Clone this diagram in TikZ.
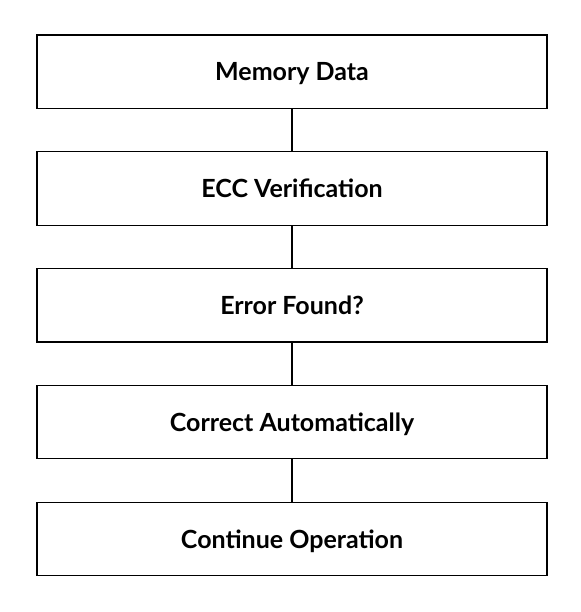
\documentclass[tikz,border=0pt]{standalone}
\usepackage{fontspec}
\setmainfont{Lato}
\begin{document}
\begin{tikzpicture}[x=1pt,y=-1pt,
  stepbox/.style={draw=black,line width=1.4pt,minimum width=510pt,minimum height=73.5pt,inner sep=0pt,text depth=0pt,font=\bfseries\fontsize{25}{28}\selectfont},
  link/.style={draw=black,line width=1.4pt}]
\useasboundingbox (0,0) rectangle (580,612);
\fill[white] (0,0) rectangle (580,612);
\node[stepbox] (a) at (292,71.8) {Memory Data};
\node[stepbox] (b) at (292,188.5) {ECC Verification};
\node[stepbox] (c) at (292,305.2) {Error Found?};
\node[stepbox] (d) at (292,422) {Correct Automatically};
\node[stepbox] (e) at (292,539) {Continue Operation};
\draw[link] (a) -- (b);
\draw[link] (b) -- (c);
\draw[link] (c) -- (d);
\draw[link] (d) -- (e);
\end{tikzpicture}
\end{document}
